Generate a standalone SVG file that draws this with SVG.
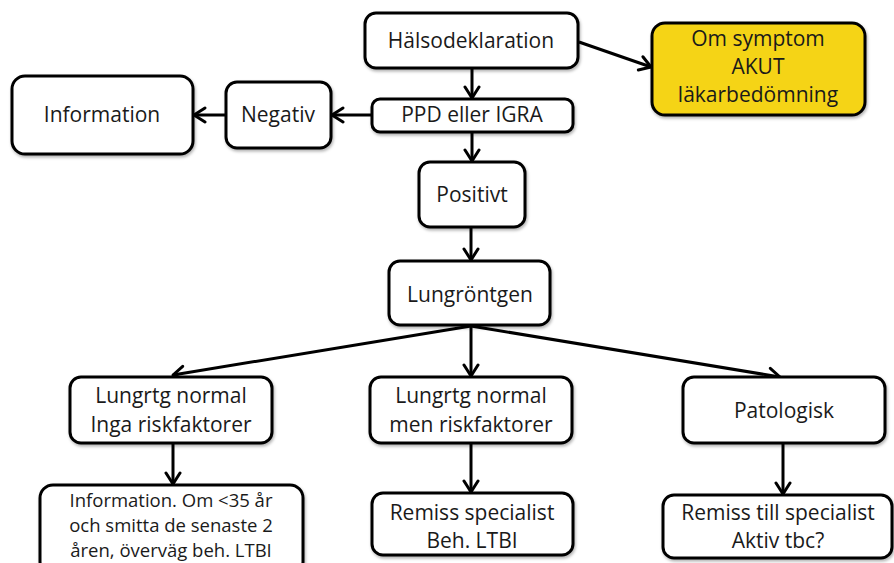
<svg xmlns="http://www.w3.org/2000/svg" width="894" height="563" viewBox="0 0 894 563">
<defs>
<marker id="ah" markerUnits="userSpaceOnUse" markerWidth="16" markerHeight="18" viewBox="0 0 16 18" refX="14" refY="9" orient="auto">
<path d="M3,2 L14,9 L3,16" fill="none" stroke="#000" stroke-width="3" stroke-linecap="round" stroke-linejoin="round"/>
</marker>
<filter id="sh" x="-10%" y="-10%" width="130%" height="140%">
<feDropShadow dx="1" dy="2" stdDeviation="1.5" flood-color="#000" flood-opacity="0.3"/>
</filter>
</defs>
<style>
.box{fill:#fff;stroke:#000;stroke-width:3;filter:url(#sh)}
.yel{fill:#F5D415}
text{font-family:"Open Sans","Noto Sans",sans-serif;font-size:21px;fill:#1a1a1a;text-anchor:middle}
.s{font-size:18.5px}
.c{fill:none;stroke:#000;stroke-width:3;marker-end:url(#ah)}
</style>
<rect width="894" height="563" fill="#fff"/>
<g id="connectors">
<line class="c" x1="579" y1="42" x2="651" y2="67"/>
<line class="c" x1="472" y1="68" x2="472" y2="98"/>
<line class="c" x1="372" y1="115" x2="332" y2="115"/>
<line class="c" x1="226" y1="115" x2="194" y2="115"/>
<line class="c" x1="472" y1="132" x2="472" y2="161"/>
<line class="c" x1="471" y1="227" x2="471" y2="260"/>
<line class="c" x1="471" y1="326" x2="173" y2="375"/>
<line class="c" x1="471" y1="326" x2="471" y2="376"/>
<line class="c" x1="471" y1="326" x2="780" y2="377"/>
<line class="c" x1="173" y1="443" x2="173" y2="484"/>
<line class="c" x1="471" y1="443" x2="471" y2="492"/>
<line class="c" x1="783" y1="443" x2="783" y2="494"/>
</g>
<g id="halsodeklaration"><rect class="box" x="365" y="13" width="213" height="55" rx="11"/><text x="471" y="48">Hälsodeklaration</text></g>
<g id="om-symptom"><rect class="box yel" x="652" y="23" width="213" height="92" rx="13"/><text x="758" y="46">Om symptom</text><text x="758" y="74">AKUT</text><text x="758" y="102">läkarbedömning</text></g>
<g id="information"><rect class="box" x="12" y="76" width="181" height="78" rx="13"/><text x="102" y="122">Information</text></g>
<g id="negativ"><rect class="box" x="226" y="82" width="105" height="66" rx="11"/><text x="278" y="122">Negativ</text></g>
<g id="ppd"><rect class="box" x="372" y="99" width="201" height="33" rx="8"/><text x="472" y="122">PPD eller IGRA</text></g>
<g id="positivt"><rect class="box" x="419" y="162" width="106" height="65" rx="11"/><text x="472" y="202">Positivt</text></g>
<g id="lungrontgen"><rect class="box" x="389" y="261" width="161" height="64" rx="11"/><text x="470" y="302">Lungröntgen</text></g>
<g id="normal-inga"><rect class="box" x="70" y="377" width="202" height="66" rx="11"/><text x="171" y="403">Lungrtg normal</text><text x="171" y="432">Inga riskfaktorer</text></g>
<g id="normal-men"><rect class="box" x="370" y="377" width="202" height="66" rx="11"/><text x="471" y="403">Lungrtg normal</text><text x="471" y="432">men riskfaktorer</text></g>
<g id="patologisk"><rect class="box" x="683" y="377" width="202" height="66" rx="11"/><text x="784" y="418">Patologisk</text></g>
<g id="info-ltbi"><rect class="box" x="40" y="485" width="263" height="90" rx="13"/><text class="s" x="171" y="507">Information. Om &lt;35 år</text><text class="s" x="171" y="532">och smitta de senaste 2</text><text class="s" x="171" y="557">åren, överväg beh. LTBI</text></g>
<g id="remiss-ltbi"><rect class="box" x="372" y="493" width="201" height="62" rx="11"/><text x="472" y="520">Remiss specialist</text><text x="472" y="548">Beh. LTBI</text></g>
<g id="remiss-tbc"><rect class="box" x="663" y="495" width="229" height="63" rx="11"/><text x="778" y="520">Remiss till specialist</text><text x="778" y="548">Aktiv tbc?</text></g>
</svg>
